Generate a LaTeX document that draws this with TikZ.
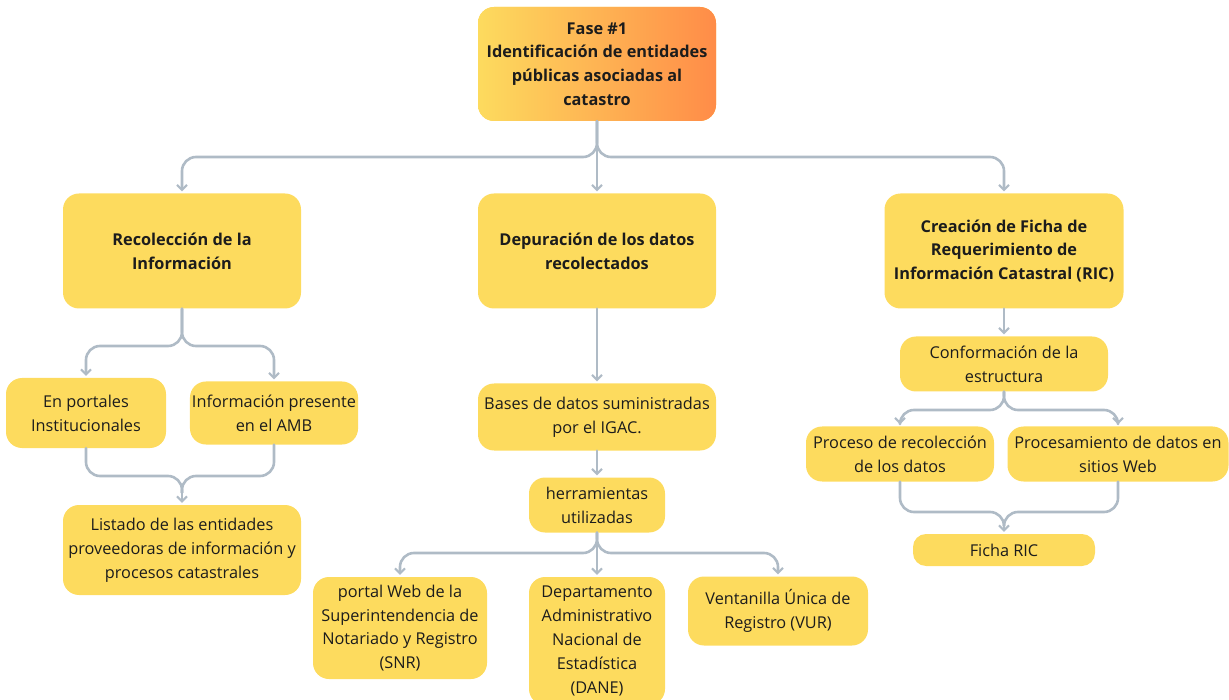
\documentclass[tikz,border=0pt]{standalone}
\usepackage{fontspec}
\setmainfont{Open Sans}
\usetikzlibrary{arrows.meta, calc, positioning}
\definecolor{boxyellow}{HTML}{FDDB5E}
\definecolor{boxorange}{HTML}{FF8C48}
\definecolor{linegray}{HTML}{AFBBC6}
\definecolor{textdark}{HTML}{1C1C1C}

\tikzset{
  box/.style={rectangle, rounded corners=16pt, fill=boxyellow, text=textdark,
    align=center, inner sep=2pt, font=\fontsize{16.3}{23.8}\selectfont},
  headbox/.style={box, font=\fontsize{16.3}{23.8}\selectfont\bfseries},
  conn/.style={draw=linegray, line width=2.6pt, rounded corners=14pt,
    -{Straight Barb[length=5pt,width=10pt,line width=2pt]}, shorten >=2pt},
  merge/.style={draw=linegray, line width=2.6pt, rounded corners=14pt}
}

\begin{document}
\begin{tikzpicture}[line cap=round,line join=round,x=1pt,y=-1pt]
\useasboundingbox (0,0) rectangle (1229,700);

% Phase title
\node [headbox, left color=boxyellow, right color=boxorange, minimum width=238pt, minimum height=114pt]
  (fase) at (597,64) {Fase \#1\\Identificación de entidades\\públicas asociadas al\\catastro};

% Three main steps
\node [headbox, minimum width=238pt, minimum height=115pt] (reco) at (182,251) {Recolección de la\\Información};
\node [headbox, minimum width=238pt, minimum height=115pt] (depu) at (597,251) {Depuración de los datos\\recolectados};
\node [headbox, minimum width=239pt, minimum height=115pt] (crea) at (1004,251) {Creación de Ficha de\\Requerimiento de\\Información Catastral (RIC)};

% Left branch
\node [box, minimum width=160pt, minimum height=70pt] (port) at (86,413) {En portales\\Institucionales};
\node [box, minimum width=168pt, minimum height=63pt] (amb) at (274,413) {Información presente\\en el AMB};
\node [box, minimum width=238pt, minimum height=90pt] (list) at (182,550) {Listado de las entidades\\proveedoras de información y\\procesos catastrales};

% Middle branch
\node [box, minimum width=238pt, minimum height=67pt] (bases) at (597,417) {Bases de datos suministradas\\por el IGAC.};
\node [box, minimum width=136pt, minimum height=55pt] (herr) at (597,505) {herramientas\\utilizadas};
\node [box, minimum width=174pt, minimum height=102pt] (snr) at (400,628) {portal Web de la\\Superintendencia de\\Notariado y Registro\\(SNR)};
\node [box, minimum width=136pt, minimum height=128pt] (dane) at (597,641) {Departamento\\Administrativo\\Nacional de\\Estadística\\(DANE)};
\node [box, minimum width=180pt, minimum height=69pt] (vur) at (778,611) {Ventanilla Única de\\Registro (VUR)};

% Right branch
\node [box, minimum width=208pt, minimum height=55pt] (estr) at (1004,364) {Conformación de la\\estructura};
\node [box, minimum width=188pt, minimum height=55pt] (proc) at (900,454) {Proceso de recolección\\de los datos};
\node [box, minimum width=221pt, minimum height=55pt] (web) at (1118,454) {Procesamiento de datos en\\sitios Web};
\node [box, minimum width=182pt, minimum height=32pt, rounded corners=13pt] (ric) at (1004,550) {Ficha RIC};

% Junction levels
\coordinate (j1) at (597,157);
\coordinate (j2) at (182,346);
\coordinate (j3) at (182,476);
\coordinate (j4) at (597,553);
\coordinate (j5) at (1004,410);
\coordinate (j6) at (1004,512);

% Connectors
\draw [conn] (fase.south) -- (fase.south |- j1) -| (reco.north);
\draw [conn] (fase.south) -- (depu.north);
\draw [conn] (fase.south) -- (fase.south |- j1) -| (crea.north);

\draw [conn] (reco.south) -- (reco.south |- j2) -| (port.north);
\draw [conn] (reco.south) -- (reco.south |- j2) -| (amb.north);
\draw [merge] (port.south) -- (port.south |- j3) -| ($(list.north)+(0,-12)$);
\draw [merge] (amb.south) -- (amb.south |- j3) -| ($(list.north)+(0,-12)$);
\draw [conn] ($(list.north)+(0,-14)$) -- (list.north);

\draw [conn] (depu.south) -- (bases.north);
\draw [conn] (bases.south) -- (herr.north);
\draw [conn] (herr.south) -- (herr.south |- j4) -| (snr.north);
\draw [conn] (herr.south) -- (dane.north);
\draw [conn] (herr.south) -- (herr.south |- j4) -| (vur.north);

\draw [conn] (crea.south) -- (estr.north);
\draw [conn] (estr.south) -- (estr.south |- j5) -| (proc.north);
\draw [conn] (estr.south) -- (estr.south |- j5) -| (web.north);
\draw [merge] (proc.south) -- (proc.south |- j6) -| ($(ric.north)+(0,-10)$);
\draw [merge] (web.south) -- (web.south |- j6) -| ($(ric.north)+(0,-10)$);
\draw [conn] ($(ric.north)+(0,-12)$) -- (ric.north);
\end{tikzpicture}
\end{document}
